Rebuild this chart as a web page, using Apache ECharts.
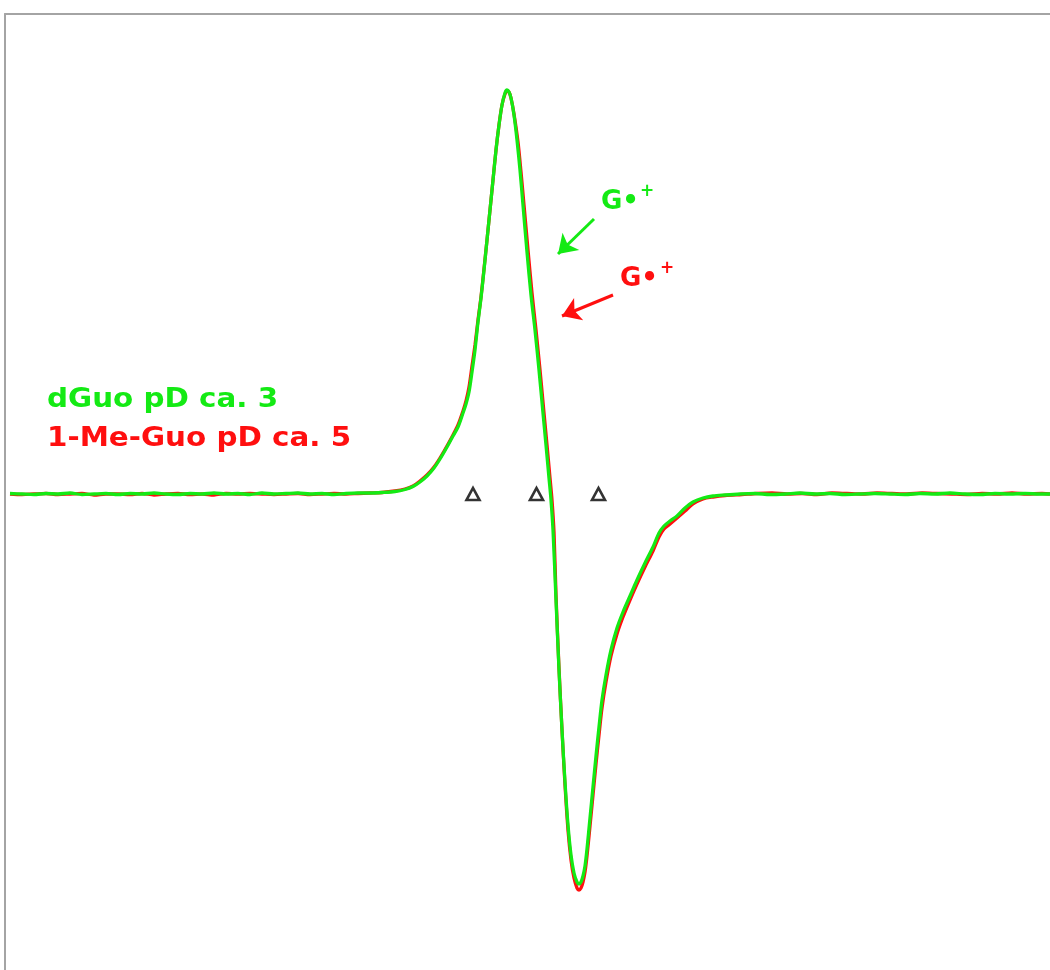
<!DOCTYPE html>
<html>
<head>
<meta charset="utf-8">
<script src="https://cdn.jsdelivr.net/npm/echarts@6/dist/echarts.min.js"></script>
<style>
html,body{margin:0;padding:0;background:#fff;}
#chart{width:1050px;height:970px;}
</style>
</head>
<body>
<div id="chart"></div>
<script>
// Field axis (arbitrary units) and intensity (arbitrary units, baseline = 0)
const baseFieldLeft = [10,22,34,46,58,70,82,94,106,118,130,142,154,166,178,190,202,214,226,238,250,262,274,286,298,310,322,334,346,358,370,382];

const greenCoreField = [395,405,413,420,427,434,440,447,453,458,463,466,469,472,475,478,481,484,487,490,493,496,499,502,505,507,509,511,514,517,520,523,527,531,535,539,543,546,549,551,553,556,559,562,565,568,571,574,577,579,581,583,585,587,590,593,596,599,602,606,611,617,623,630,637,645,653,659,664,670,677,685,693,703,713,725];
const greenRightField = [740,755,770,785,800,815,830,845,860,875,890,905,920,935,950,965,980,995,1010,1025,1040,1050];
const greenLeftSignal = [0.5,0,-0.5,0.5,0,1,-0.5,0,0.5,-0.5,0.5,0,1,0,-0.5,0.5,0,1,0,0.5,-0.5,1,0,0.5,1,0,0.5,-0.5,0.5,1,1,1.5];
const greenCoreSignal = [2.5,4.5,7.5,12,18,26,35,47,58,67,81,90,102,122,144,172,196,224,254,284,314,344,369,389,401,404,402,396,379,354,324,289,242,199,164,124,81,49,16,-6,-36,-106,-176,-236,-288,-331,-361,-379,-388,-390,-388,-382,-372,-355,-324,-293,-262,-233,-206,-181,-156,-134,-118,-102,-86,-69,-53,-39,-32,-27,-22,-14,-8,-4,-2,-1];
const greenRightSignal = [0,0.5,-0.5,0,1,0,0.5,-0.5,0,0.5,0,-0.5,0.5,0,1,0,-0.5,0.5,0,0.5,0,0];

const redCoreField = [395,405,413,420,427,434,440,447,453,458,463,466,469,472,475,478,481,484,487,490,493,496,499,502,505,507,509,511,514,518,521,524,528,532,536,540,544,547,550,552,554,556,559,562,565,568,571,574,577,579,581,583,585,587,590,593,596,599,602,606,611,617,623,630,637,645,653,659,664,670,677,685,693,703,713,725];
const redRightField = [742,757,772,787,802,817,832,847,862,877,892,907,922,937,952,967,982,997,1012,1027,1042,1050];
const redLeftSignal = [0,-0.5,0,0.5,-0.5,0,0.5,-1,0,0,-0.5,0.5,-1,0,0.5,-0.5,0,-1,0.5,0,0.5,0,-0.5,0,0.5,-0.5,0,0.5,0,0.5,1,1.5];
const redCoreSignal = [3,5,8,13,19,27,36,48,59,69,83,93,107,128,149,174,197,225,254,284,314,344,369,389,400,403,402,396,380,352,322,289,244,201,164,124,81,49,16,-6,-38,-101,-174,-236,-291,-336,-366,-384,-394,-396,-394,-388,-378,-362,-332,-301,-270,-241,-214,-188,-162,-140,-123,-106,-90,-73,-57,-43,-35,-30,-24,-17,-10,-5,-3,-1.5];
const redRightSignal = [-0.5,0.5,1,0,0.5,-0.5,1,0.5,0,1,0.5,0,1,0.5,0,-0.5,0.5,0,1,0,0.5,0];

// g-value markers (triangles on the baseline)
const markerField = [473, 536.5, 598.5];
const markerSignal = [0, 0, 0];

const legendGreen = 'dGuo pD ca. 3';
const legendRed = '1-Me-Guo pD ca. 5';
const radicalLabel = 'G•';
const radicalCharge = '+';

const GREEN = '#14ea14';
const RED = '#ff0f0f';

const pairs = (xs, ys) => xs.map((x, i) => [x, ys[i]]);
const greenData = pairs(baseFieldLeft.concat(greenCoreField, greenRightField), greenLeftSignal.concat(greenCoreSignal, greenRightSignal));
const redData = pairs(baseFieldLeft.concat(redCoreField, redRightField), redLeftSignal.concat(redCoreSignal, redRightSignal));

const chart = echarts.init(document.getElementById('chart'));
chart.setOption({
  animation: false,
  backgroundColor: '#ffffff',
  grid: { left: 5, top: 14, right: 0, bottom: 0, containLabel: false },
  xAxis: {
    type: 'value', min: 5, max: 1050, position: 'top',
    axisLine: { show: true, onZero: false, lineStyle: { color: '#a4a4a4', width: 2 } },
    axisTick: { show: false }, axisLabel: { show: false }, splitLine: { show: false }
  },
  yAxis: {
    type: 'value', min: -476, max: 480,
    axisLine: { show: true, onZero: false, lineStyle: { color: '#a4a4a4', width: 2 } },
    axisTick: { show: false }, axisLabel: { show: false }, splitLine: { show: false }
  },
  series: [
    {
      name: '1-Me-Guo', type: 'line', data: redData,
      showSymbol: false, smooth: 0.3, silent: true,
      lineStyle: { color: RED, width: 3.3 },
      markLine: {
        silent: true, symbol: ['none', 'arrow'], symbolSize: 18,
        label: { show: false },
        lineStyle: { color: RED, width: 3, type: 'solid' },
        data: [[{ coord: [613, 199] }, { coord: [562, 178] }]]
      }
    },
    {
      name: 'dGuo', type: 'line', data: greenData,
      showSymbol: false, smooth: 0.3, silent: true,
      lineStyle: { color: GREEN, width: 3.3 },
      markLine: {
        silent: true, symbol: ['none', 'arrow'], symbolSize: 18,
        label: { show: false },
        lineStyle: { color: GREEN, width: 3, type: 'solid' },
        data: [[{ coord: [594, 275] }, { coord: [558, 240] }]]
      }
    },
    {
      name: 'markers', type: 'scatter', data: pairs(markerField, markerSignal),
      symbol: 'triangle', symbolSize: [13, 12], silent: true,
      itemStyle: { color: '#ffffff', borderColor: '#000000', borderWidth: 2.6 }
    }
  ],
  graphic: [
    { type: 'text', x: 47, y: 400, scaleX: 1.13, silent: true,
      style: { text: legendGreen, font: 'bold 26px "DejaVu Sans"', fill: GREEN, verticalAlign: 'middle' } },
    { type: 'text', x: 47, y: 439, scaleX: 1.13, silent: true,
      style: { text: legendRed, font: 'bold 26px "DejaVu Sans"', fill: RED, verticalAlign: 'middle' } },
    { type: 'text', x: 601, y: 202, silent: true,
      style: { text: radicalLabel, font: 'bold 26px "DejaVu Sans"', fill: GREEN, verticalAlign: 'middle' } },
    { type: 'text', x: 640, y: 192, silent: true,
      style: { text: radicalCharge, font: 'bold 17px "DejaVu Sans"', fill: GREEN, verticalAlign: 'middle' } },
    { type: 'text', x: 620, y: 279, silent: true,
      style: { text: radicalLabel, font: 'bold 26px "DejaVu Sans"', fill: RED, verticalAlign: 'middle' } },
    { type: 'text', x: 660, y: 269, silent: true,
      style: { text: radicalCharge, font: 'bold 17px "DejaVu Sans"', fill: RED, verticalAlign: 'middle' } }
  ]
});
</script>
</body>
</html>
